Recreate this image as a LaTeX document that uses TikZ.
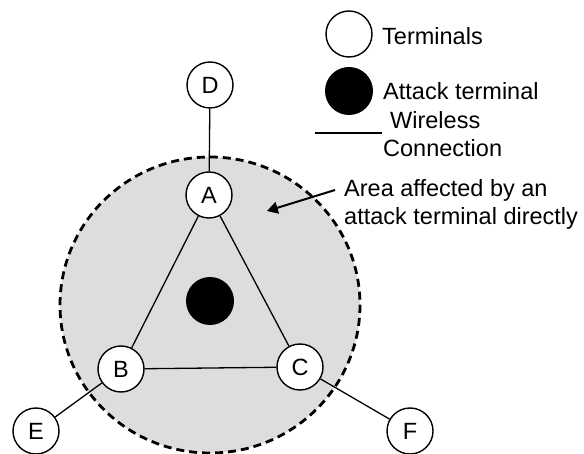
\documentclass[tikz,border=0pt]{standalone}
\usepackage{fontspec}
\setmainfont{Liberation Sans}
\usepackage{tikz}
\usetikzlibrary{arrows,shapes}
\definecolor{areagray}{RGB}{221,221,221}
\tikzstyle{terminal}=[circle,draw=black,fill=white,line width=1.4pt,minimum size=46pt,inner sep=0pt]
\tikzstyle{attacker}=[circle,fill=black,minimum size=48pt,inner sep=0pt]
\tikzstyle{link} = [draw,line width=1.3pt]
\tikzstyle{label} = [inner sep=0pt,align=left,font=\fontsize{23.5}{28.5}\selectfont]

\begin{document}
\begin{tikzpicture}[x=1pt,y=-1pt,font=\fontsize{23.5}{28.5}\selectfont]
    \useasboundingbox (0,0) rectangle (584,454);
    % area affected by the attack terminal
    \draw[fill=areagray,dash pattern=on 8pt off 5pt,line width=2.8pt] (210,305) ellipse (150 and 148);
    \node[attacker] (X) at (210,301) {};
    \foreach \pos/\name in {{(210,85)/D}, {(209,195)/A}, {(121,369)/B}, {(300,367)/C}, {(36,431)/E}, {(410,431)/F}}
        \node[terminal] (\name) at \pos {\name};
    \foreach \src/\dest in {D/A, A/B, A/C, B/C, B/E, C/F}
        \path[link] (\src) -- (\dest);
    % legend
    \node[terminal] (legT) at (349,34) {};
    \node[attacker] (legX) at (349,91) {};
    \coordinate (legL1) at (315,133);
    \coordinate (legL2) at (382,133);
    \path[link] (legL1) -- (legL2);
    \node[label,anchor=base west] (txtT) at (382,45) {Terminals};
    \node[label,anchor=base west] (txtX) at (383,100) {Attack terminal};
    \node[label,anchor=base west] (txtW) at (383,157) {\hspace*{7pt}Wireless\\Connection};
    % annotation
    \node[label,anchor=base west] (txtA) at (344,225) {Area affected by an\\attack terminal directly};
    \coordinate (arrT) at (335,190);
    \coordinate (arrH) at (267,211);
    \draw[line width=2pt,-triangle 60] (arrT) -- (arrH);
\end{tikzpicture}
\end{document}
